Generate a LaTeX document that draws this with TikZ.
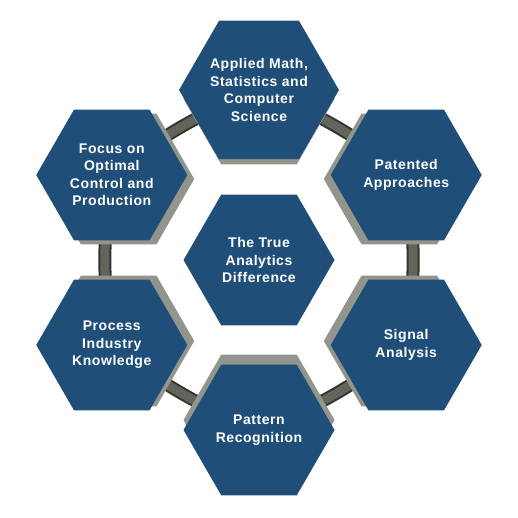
\documentclass[tikz,border=0pt]{standalone}
\usepackage{fontspec}
\setmainfont{Liberation Sans}
\newfontfamily\hexfont[LetterSpace=4]{Liberation Sans}
\usetikzlibrary{shapes.geometric,backgrounds}
\definecolor{hexblue}{RGB}{31,78,121}
\definecolor{sidegray}{RGB}{146,149,140}
\definecolor{ringdark}{RGB}{50,52,46}
\definecolor{ringmid}{RGB}{98,101,92}
\begin{document}
\begin{tikzpicture}[x=1pt,y=1pt,
    hexface/.style={regular polygon, regular polygon sides=6, minimum size=151pt, inner sep=0pt,
      fill=hexblue, text=white, align=center, font=\hexfont\bfseries\fontsize{14}{17.5}\selectfont},
    hexdepth/.style={regular polygon, regular polygon sides=6, minimum size=151pt, inner sep=0pt,
      fill=sidegray},
    ring/.style={line width=2pt, draw=ringdark, double=ringmid, double distance=9pt}]
        \useasboundingbox (-259,-258) rectangle (259,260);
        % Spessori
        \node [hexdepth] (math-d) at (90:161) {};
        \node [hexdepth] (patent-d) at (30:162) {};
        \node [hexdepth] (signal-d) at (-30:162) {};
        \node [hexdepth] (pattern-d) at (-90:160) {};
        \node [hexdepth] (process-d) at (210:162) {};
        \node [hexdepth] (focus-d) at (150:162) {};
        % Esagoni
        \node [hexface] (math) at (90:170) {Applied Math,\\Statistics and\\Computer\\Science};
        \node [hexface] (patent) at (30:170) {Patented\\Approaches};
        \node [hexface] (signal) at (-30:170) {Signal\\Analysis};
        \node [hexface] (pattern) at (-90:170) {Pattern\\Recognition};
        \node [hexface] (process) at (210:170) {Process\\Industry\\Knowledge};
        \node [hexface] (focus) at (150:170) {Focus on\\Optimal\\Control and\\Production};
        \node [hexface] (true) at (0,0) {The True\\Analytics\\Difference};
        % Anello
        \begin{scope}[on background layer]
            \draw [ring] (math.center) to [bend left=8] (patent.center);
            \draw [ring] (patent.center) to [bend left=8] (signal.center);
            \draw [ring] (signal.center) to [bend left=8] (pattern.center);
            \draw [ring] (pattern.center) to [bend left=8] (process.center);
            \draw [ring] (process.center) to [bend left=8] (focus.center);
            \draw [ring] (focus.center) to [bend left=8] (math.center);
        \end{scope}
    \end{tikzpicture}
\end{document}
